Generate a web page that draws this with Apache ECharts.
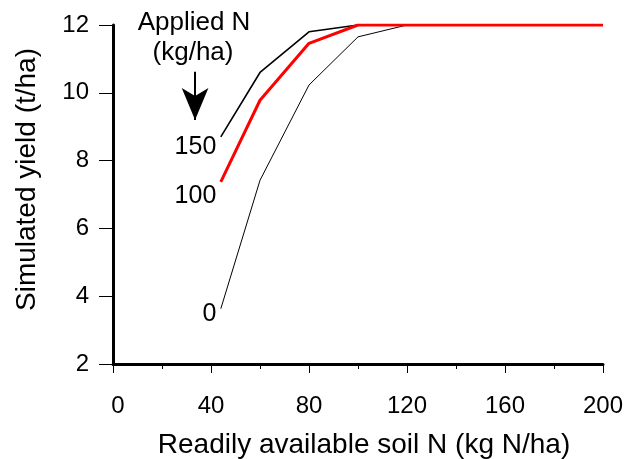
<!DOCTYPE html>
<html>
<head>
<meta charset="utf-8">
<script src="https://cdn.jsdelivr.net/npm/echarts@6/dist/echarts.min.js"></script>
<style>html,body{margin:0;padding:0;background:#fff}#c{width:630px;height:459px}</style>
</head>
<body>
<div id="c"></div>
<script>
var soilN = [44, 60, 80, 100, 120, 140, 160, 180, 200];
var yield0 = [3.63, 7.42, 10.23, 11.65, 12, 12, 12, 12, 12];
var yield100 = [7.37, 9.78, 11.46, 12, 12, 12, 12, 12, 12];
var yield150 = [8.7, 10.6, 11.8, 12, 12, 12, 12, 12, 12];
var seriesNames = ['0', '100', '150'];
var xTicks = [0, 40, 80, 120, 160, 200];
var yTicks = [2, 4, 6, 8, 10, 12];
var FONT = 'Liberation Sans, Arial, sans-serif';

function pairs(ys) { return soilN.map(function (x, i) { return [x, ys[i]]; }); }
function startMark(name, ys, off) {
  return {
    silent: true, symbol: 'circle', symbolSize: 1,
    itemStyle: { color: 'rgba(0,0,0,0)' },
    label: { show: true, formatter: name, position: 'left', distance: 4, offset: [0, off], fontSize: 25, color: '#000', fontFamily: FONT },
    data: [{ coord: [soilN[0], ys[0]] }]
  };
}

var chart = echarts.init(document.getElementById('c'), null, { renderer: 'canvas' });
chart.setOption({
  animation: false,
  backgroundColor: '#fff',
  grid: { left: 113, right: 27, top: 25, bottom: 95, containLabel: false, outerBoundsMode: 'none' },
  xAxis: {
    type: 'value', min: xTicks[0], max: xTicks[xTicks.length - 1], interval: 40,
    name: 'Readily available soil N (kg N/ha)', nameLocation: 'middle', nameGap: 67,
    nameTextStyle: { fontSize: 28, color: '#000', fontFamily: FONT, padding: [0, 0, 0, 12] },
    axisLine: { onZero: false, lineStyle: { color: '#000', width: 3 } },
    axisTick: { length: 9, lineStyle: { color: '#000', width: 1 } },
    minorTick: { show: true, splitNumber: 2, length: 5, lineStyle: { color: '#000', width: 1 } },
    axisLabel: {
      fontSize: 24, color: '#000', margin: 30, fontFamily: FONT,
      formatter: function (v) { return v === 0 ? '{z|0}' : String(v); },
      rich: { z: { fontSize: 24, color: '#000', fontFamily: FONT, padding: [0, 0, 0, 10] } }
    },
    splitLine: { show: false }, minorSplitLine: { show: false }
  },
  yAxis: {
    type: 'value', min: yTicks[0], max: yTicks[yTicks.length - 1], interval: 2,
    name: 'Simulated yield (t/ha)', nameLocation: 'middle', nameGap: 72,
    nameTextStyle: { fontSize: 28, color: '#000', fontFamily: FONT, padding: [0, 0, 0, 30] },
    axisLine: { onZero: false, lineStyle: { color: '#000', width: 3 } },
    axisTick: { length: 14, lineStyle: { color: '#000', width: 1 } },
    axisLabel: { fontSize: 24, color: '#000', margin: 24, fontFamily: FONT },
    splitLine: { show: false }
  },
  graphic: [{
    type: 'text', x: 194, y: 10,
    style: { text: 'Applied N', font: '26px ' + FONT, fill: '#000', textAlign: 'center', textVerticalAlign: 'top' }
  }, {
    type: 'text', x: 193, y: 40,
    style: { text: '(kg/ha)', font: '26px ' + FONT, fill: '#000', textAlign: 'center', textVerticalAlign: 'top' }
  }],
  series: [{
    name: seriesNames[0], type: 'line', data: pairs(yield0),
    showSymbol: false, symbol: 'none', lineStyle: { color: '#000', width: 1 }, z: 2,
    markPoint: startMark(seriesNames[0], yield0, 5)
  }, {
    name: seriesNames[2], type: 'line', data: pairs(yield150),
    showSymbol: false, symbol: 'none', lineStyle: { color: '#000', width: 1.6 }, z: 3,
    markPoint: startMark(seriesNames[2], yield150, 10),
    markLine: {
      silent: true, symbol: ['none', 'arrow'], symbolSize: [20, 32],
      lineStyle: { color: '#000', width: 2, type: 'solid' }, label: { show: false },
      data: [[{ coord: [33.5, 10.62] }, { coord: [33.5, 9.2] }]]
    }
  }, {
    name: seriesNames[1], type: 'line', data: pairs(yield100),
    showSymbol: false, symbol: 'none', lineStyle: { color: '#ff0000', width: 3 }, z: 4,
    markPoint: startMark(seriesNames[1], yield100, 14)
  }]
});
</script>
</body>
</html>
